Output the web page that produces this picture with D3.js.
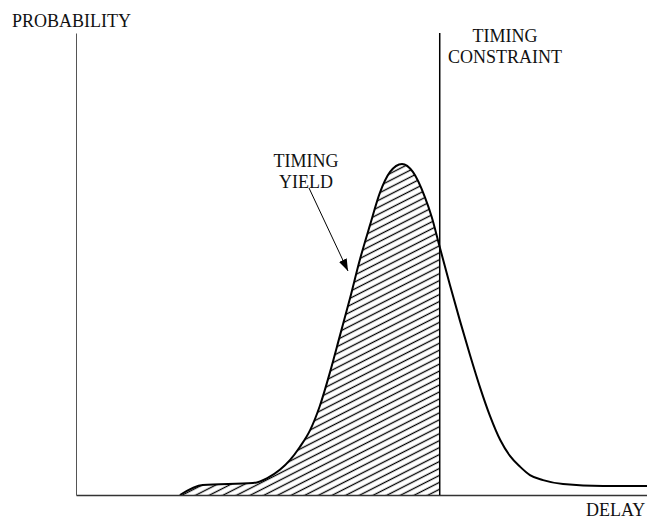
<!DOCTYPE html>
<html><head><meta charset="utf-8">
<script src="https://cdn.jsdelivr.net/npm/d3@7"></script>
<style>body{margin:0;background:#fff}text{font-family:"Liberation Serif","Times New Roman",serif;fill:#111}</style>
</head><body><svg id="c" width="647" height="521"></svg>
<script>
const delay = [1.82,2.22,3.10,3.35,3.57,3.75,3.92,4.10,4.27,4.45,4.62,4.80,4.97,5.15,5.32,5.50,5.71,5.90,6.11,6.23,6.37,6.55,6.73,6.90,7.08,7.25,7.43,7.60,7.78,7.95,8.18,8.53,9.23,10.0];
const probability = [0,0.030,0.036,0.051,0.076,0.106,0.145,0.196,0.269,0.372,0.480,0.595,0.710,0.816,0.912,0.976,1.0,0.976,0.900,0.840,0.749,0.634,0.523,0.423,0.323,0.239,0.166,0.118,0.085,0.060,0.045,0.033,0.027,0.027];
const constraint = 6.37;
const labels = {y:"PROBABILITY", x:"DELAY", constraint:["TIMING","CONSTRAINT"], yieldL:["TIMING","YIELD"]};

const svg = d3.select("#c");
const x = d3.scaleLinear().domain([0,10]).range([76,647]);
const y = d3.scaleLinear().domain([0,1]).range([495,164]);
const yTop = 33;

const data = delay.map((d,i)=>({d, p:probability[i]}));

const defs = svg.append("defs");
const sp = 6.2;
const pat = defs.append("pattern").attr("id","hatch").attr("patternUnits","userSpaceOnUse")
  .attr("width",sp).attr("height",sp).attr("patternTransform","rotate(-27)");
pat.append("line").attr("x1",0).attr("y1",sp/2).attr("x2",sp).attr("y2",sp/2)
  .attr("stroke","#000").attr("stroke-width",1.3);
defs.append("clipPath").attr("id","clipL").append("rect")
  .attr("x",0).attr("y",0).attr("width",x(constraint)).attr("height",y(0));

const area = d3.area().x(d=>x(d.d)).y0(y(0)).y1(d=>y(d.p)).curve(d3.curveMonotoneX);
const line = d3.line().x(d=>x(d.d)).y(d=>y(d.p)).curve(d3.curveMonotoneX);

svg.append("path").datum(data).attr("d",area).attr("fill","url(#hatch)").attr("clip-path","url(#clipL)");
svg.append("path").datum(data).attr("d",line).attr("fill","none").attr("stroke","#000").attr("stroke-width",2);

// axes (no ticks)
const xAxis = d3.axisBottom(x).tickValues([]).tickSizeOuter(0);
svg.append("g").attr("transform",`translate(0,${y(0)})`).call(xAxis)
  .select(".domain").attr("stroke","#333").attr("stroke-width",1.3);
const yAxis = d3.axisLeft(d3.scaleLinear().domain([0,1]).range([y(0),yTop])).tickValues([]).tickSizeOuter(0);
svg.append("g").attr("transform",`translate(${x(0)},0)`).call(yAxis)
  .select(".domain").attr("stroke","#555").attr("stroke-width",1);

// constraint line
svg.append("line").attr("x1",x(constraint)).attr("x2",x(constraint)).attr("y1",yTop).attr("y2",y(0))
  .attr("stroke","#000").attr("stroke-width",1.5);

// labels
const fs = 18;
svg.append("text").attr("x",12).attr("y",27).attr("font-size",fs).text(labels.y);
svg.append("text").attr("x",586).attr("y",516).attr("font-size",fs).text(labels.x);
labels.constraint.forEach((t,i)=>svg.append("text").attr("x",505).attr("y",42+i*21).attr("text-anchor","middle").attr("font-size",fs).text(t));
labels.yieldL.forEach((t,i)=>svg.append("text").attr("x",306).attr("y",167+i*21).attr("text-anchor","middle").attr("font-size",fs).text(t));

// arrow
defs.append("marker").attr("id","ah").attr("viewBox","0 0 10 10").attr("refX",10).attr("refY",5)
  .attr("markerWidth",12).attr("markerHeight",12).attr("markerUnits","userSpaceOnUse").attr("orient","auto")
  .append("path").attr("d","M0,1.5 L10,5 L0,8.5 Z").attr("fill","#000");
svg.append("line").attr("x1",309).attr("y1",188).attr("x2",348).attr("y2",271)
  .attr("stroke","#000").attr("stroke-width",1).attr("marker-end","url(#ah)");
</script></body></html>
